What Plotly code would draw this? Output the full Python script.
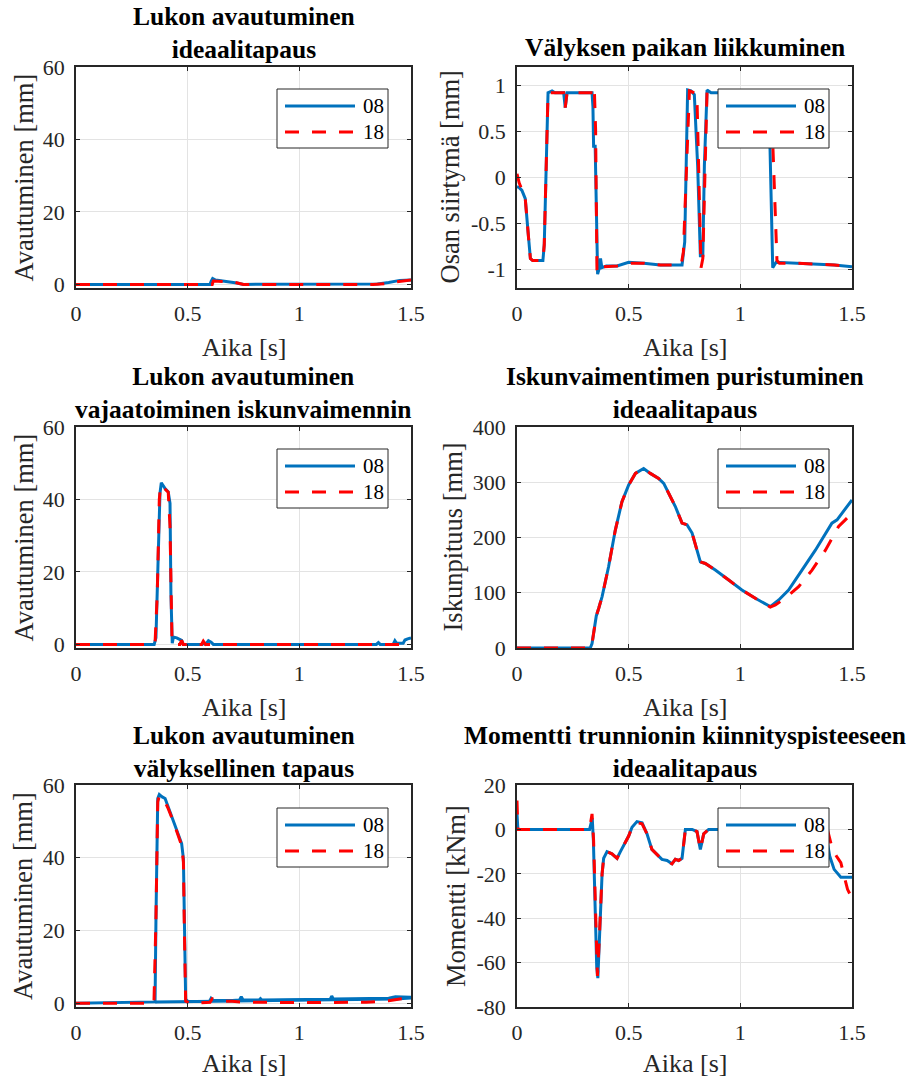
import plotly.graph_objects as go

W, H = 910, 1077

SERIES_NAMES = ["08", "18"]
X_TICKS = [0, 0.5, 1, 1.5]
X_TICKTEXT = ["0", "0.5", "1", "1.5"]

# ---------- Plot 1: Lukon avautuminen, ideaalitapaus ----------
p1_t08 = [0, 0.600, 0.605, 0.612, 0.625, 0.650, 0.680, 0.700, 0.720, 0.750, 1.300, 1.350, 1.400, 1.430, 1.450, 1.500]
p1_v08 = [0, 0, 0.8, 1.6, 1.2, 1.0, 0.9, 0.7, 0.4, 0, 0, 0.1, 0.5, 0.9, 1.1, 1.2]
p1_t18 = [0, 0.610, 0.615, 0.630, 0.660, 0.690, 0.720, 0.750, 1.330, 1.380, 1.420, 1.460, 1.500]
p1_v18 = [0, 0, 0.9, 0.8, 0.8, 0.9, 0.5, 0, 0, 0.2, 0.6, 1.0, 1.2]

# ---------- Plot 2: Välyksen paikan liikkuminen ----------
p2_t08 = [0, 0.010, 0.022, 0.037, 0.052, 0.060, 0.070, 0.116, 0.122, 0.131, 0.139, 0.157, 0.170, 0.209,
          0.216, 0.224, 0.300, 0.336, 0.340, 0.343, 0.350, 0.358, 0.361, 0.369, 0.374, 0.380, 0.400,
          0.448, 0.478, 0.500, 0.567, 0.642, 0.739, 0.746, 0.751, 0.764, 0.779, 0.794, 0.809, 0.821,
          0.832, 0.839, 0.851, 0.869, 1.000, 1.125, 1.132, 1.145, 1.160, 1.257, 1.421, 1.500]
p2_v08 = [-0.10, -0.11, -0.14, -0.23, -0.66, -0.88, -0.90, -0.90, -0.73, 0.13, 0.92, 0.94, 0.92, 0.92,
          0.76, 0.92, 0.92, 0.92, 0.77, 0.34, 0.34, -0.95, -1.05, -0.98, -0.88, -0.98, -0.96,
          -0.96, -0.94, -0.92, -0.93, -0.95, -0.95, -0.81, -0.70, 0.95, 0.94, 0.90, 0.12, -0.85,
          -0.85, 0.13, 0.95, 0.92, 0.92, 0.92, 0.42, -0.98, -0.92, -0.93, -0.95, -0.97]
p2_t18 = [0, 0.010, 0.022, 0.037, 0.052, 0.060, 0.070, 0.116, 0.122, 0.131, 0.139, 0.170, 0.209,
          0.216, 0.224, 0.300, 0.340, 0.346, 0.352, 0.358, 0.362, 0.366, 0.388, 0.448, 0.493, 0.515,
          0.567, 0.642, 0.735, 0.745, 0.772, 0.794, 0.806, 0.824, 0.832, 0.842, 0.851, 0.869, 1.000,
          1.135, 1.145, 1.155, 1.164, 1.175, 1.257, 1.421, 1.500]
p2_v18 = [0.04, -0.06, -0.13, -0.23, -0.66, -0.88, -0.90, -0.90, -0.73, 0.13, 0.92, 0.92, 0.92,
          0.76, 0.92, 0.92, 0.92, 0.98, 0.52, -1.00, -1.04, -1.00, -0.97, -0.96, -0.94, -0.93,
          -0.93, -0.95, -0.95, -0.81, 0.94, 0.92, 0.85, -0.98, -0.88, 0.13, 0.94, 0.92, 0.92,
          0.92, 0.39, -0.25, -0.90, -0.93, -0.93, -0.95, -0.97]

# ---------- Plot 3: Lukon avautuminen, vajaatoiminen iskunvaimennin ----------
p3_t08 = [0, 0.350, 0.358, 0.369, 0.376, 0.382, 0.399, 0.413, 0.421, 0.425, 0.428, 0.431, 0.436,
          0.451, 0.473, 0.480, 0.565, 0.570, 0.580, 0.593, 0.605, 0.615, 1.345, 1.354, 1.362, 1.420,
          1.428, 1.436, 1.465, 1.473, 1.485, 1.500]
p3_v08 = [0, 0, 1.8, 23, 41.7, 44.6, 43.0, 42.1, 38.9, 14, 5, 0.3, 2.0,
          1.8, 1.1, 0, 0, 0.3, 0, 1.0, 0.6, 0, 0, 0.5, 0, 0,
          1.0, 0.3, 0.3, 1.2, 1.5, 1.8]
p3_t18 = [0, 0.345, 0.354, 0.364, 0.373, 0.379, 0.396, 0.413, 0.421, 0.430, 0.440, 0.465, 0.473,
          0.480, 0.562, 0.570, 0.580, 1.500]
p3_v18 = [0, 0, 0.5, 14, 40, 44, 43, 42, 32.5, 0.5, 0, 0, 1.1,
          0, 0, 0.9, 0, 0]

# ---------- Plot 4: Iskunvaimentimen puristuminen, ideaalitapaus ----------
p4_t08 = [0, 0.328, 0.336, 0.345, 0.355, 0.366, 0.381, 0.410, 0.440, 0.470, 0.500, 0.530, 0.567,
          0.597, 0.634, 0.657, 0.679, 0.709, 0.739, 0.761, 0.784, 0.806, 0.821, 0.843, 0.888, 0.948,
          1.007, 1.067, 1.134, 1.172, 1.216, 1.276, 1.336, 1.410, 1.433, 1.500]
p4_v08 = [0, 0, 8, 32, 58, 72, 93, 147, 213, 265, 295, 316, 325,
          316, 307, 298, 280, 256, 226, 223, 208, 177, 156, 153, 141, 123,
          105, 90, 75, 87, 105, 141, 177, 226, 232, 268]
p4_t18 = [0, 0.328, 0.336, 0.345, 0.355, 0.366, 0.381, 0.410, 0.440, 0.470, 0.500, 0.530, 0.567,
          0.597, 0.634, 0.657, 0.679, 0.709, 0.739, 0.761, 0.784, 0.806, 0.821, 0.843, 0.888, 0.948,
          1.007, 1.067, 1.134, 1.157, 1.201, 1.261, 1.321, 1.381, 1.440, 1.470, 1.490]
p4_v18 = [0, 0, 8, 32, 58, 72, 93, 147, 213, 265, 295, 316, 325,
          316, 307, 298, 280, 256, 226, 223, 208, 177, 156, 153, 141, 123,
          105, 90, 74, 78, 90, 111, 141, 177, 220, 232, 240]

# ---------- Plot 5: Lukon avautuminen, välyksellinen tapaus ----------
p5_t08 = [0, 0.350, 0.354, 0.358, 0.366, 0.373, 0.384, 0.399, 0.413, 0.436, 0.458, 0.473, 0.481,
          0.485, 0.491, 0.503, 0.598, 0.605, 0.615, 0.700, 0.732, 0.740, 0.748, 0.820, 0.826, 0.832,
          1.138, 1.145, 1.152, 1.400, 1.430, 1.500,
          None, 0.355, 0.500, 1.000, 1.430, 1.500]
p5_v08 = [0, 0.3, 0.4, 23, 56.3, 57.4, 56.8, 56.3, 54.0, 49.9, 46.6, 43.9, 39.7,
          23, 1.1, 0.5, 0.6, 1.4, 0.8, 0.8, 0.9, 1.8, 0.9, 0.9, 1.3, 0.9,
          1.1, 2.0, 1.2, 1.4, 1.8, 1.7,
          None, 0.4, 0.5, 0.8, 1.2, 1.5]
p5_t18 = [0, 0.349, 0.358, 0.366, 0.373, 0.391, 0.413, 0.436, 0.473, 0.481, 0.485, 0.491, 0.510,
          0.600, 0.610, 0.630, 0.660, 0.700, 0.750, 0.800, 1.000, 1.300, 1.400, 1.450, 1.500]
p5_v18 = [0, 0, 23, 55.4, 57.0, 56.3, 53.5, 49.9, 43.4, 38.8, 21, 0.6, 0,
          0.3, 1.3, 1.1, 0.6, 0.6, 0.3, 0.3, 0.2, 0.3, 0.7, 1.2, 1.6]

# ---------- Plot 6: Momentti trunnionin kiinnityspisteeseen, ideaalitapaus ----------
p6_t08 = [0, 0.004, 0.325, 0.332, 0.337, 0.342, 0.350, 0.357, 0.362, 0.367, 0.373, 0.381, 0.388,
          0.403, 0.425, 0.448, 0.463, 0.485, 0.500, 0.515, 0.537, 0.560, 0.582, 0.604, 0.627, 0.649,
          0.672, 0.694, 0.709, 0.724, 0.739, 0.754, 0.784, 0.806, 0.821, 0.836, 0.858, 1.380, 1.400,
          1.420, 1.450, 1.500]
p6_v08 = [7, 0, 0, 4, 5, -5, -40, -62, -67, -55, -35, -20, -13,
          -10, -11, -13, -10, -6, -3, 1, 3.5, 3, -2, -9, -11.5, -13.5,
          -14, -15.5, -13.5, -14, -13, 0, 0, -1, -9, -2, 0, 0, -12,
          -18, -21.5, -21.5]
p6_t18 = [0, 0.004, 0.325, 0.331, 0.336, 0.343, 0.352, 0.360, 0.366, 0.373, 0.381, 0.388,
          0.403, 0.425, 0.448, 0.463, 0.485, 0.500, 0.515, 0.537, 0.560, 0.582, 0.604, 0.627, 0.649,
          0.672, 0.694, 0.709, 0.724, 0.739, 0.754, 0.784, 0.806, 0.821, 0.836, 0.858, 1.390, 1.410,
          1.430, 1.450, 1.465, 1.480, 1.500]
p6_v18 = [13, 0, 0, 3, 7, -5, -45, -66, -55, -34, -20, -13,
          -10, -11, -13, -10, -6, -3, 1, 3, 2.5, -2, -9, -11.5, -13.5,
          -14.5, -15.5, -13.5, -14, -13, 0, 0, -1, -9, -2, 0, 0, -8,
          -12, -15, -21, -27, -31]

TITLES = ["Lukon avautuminen<br>ideaalitapaus",
          "Välyksen paikan liikkuminen",
          "Lukon avautuminen<br>vajaatoiminen iskunvaimennin",
          "Iskunvaimentimen puristuminen<br>ideaalitapaus",
          "Lukon avautuminen<br>välyksellinen tapaus",
          "Momentti trunnionin kiinnityspisteeseen<br>ideaalitapaus"]
X_LABEL = "Aika [s]"
Y_LABELS = ["Avautuminen [mm]", "Osan siirtymä [mm]", "Avautuminen [mm]",
            "Iskunpituus [mm]", "Avautuminen [mm]", "Momentti [kNm]"]
Y_RANGES = [[-1, 60], [-1.2, 1.2], [-1, 60], [0, 400], [-1, 60], [-80, 20]]
Y_TICKS = [[0, 20, 40, 60], [-1, -0.5, 0, 0.5, 1], [0, 20, 40, 60],
           [0, 100, 200, 300, 400], [0, 20, 40, 60], [-80, -60, -40, -20, 0, 20]]
Y_TICKTEXT = [["0", "20", "40", "60"], ["-1", "-0.5", "0", "0.5", "1"], ["0", "20", "40", "60"],
              ["0", "100", "200", "300", "400"], ["0", "20", "40", "60"],
              ["-80", "-60", "-40", "-20", "0", "20"]]

DATA = [(p1_t08, p1_v08, p1_t18, p1_v18), (p2_t08, p2_v08, p2_t18, p2_v18),
        (p3_t08, p3_v08, p3_t18, p3_v18), (p4_t08, p4_v08, p4_t18, p4_v18),
        (p5_t08, p5_v08, p5_t18, p5_v18), (p6_t08, p6_v08, p6_t18, p6_v18)]

# ---------- layout geometry (pixels) ----------
COL_X = [(76, 411), (517, 852)]
ROW_Y = [(67, 288), (427, 648), (785, 1007)]
TITLE_CY = [33, 393, 752]
TITLE_CY_SINGLE = 48
XLABEL_CY = [347, 707, 1063]
YLABEL_CX = [23, 449, 23, 452, 23, 456]
LEG_X = [277, 718]
LEG_Y = [89, 449, 808]

BLUE = "#0072BD"
RED = "#FF0000"
AX = "#262626"
FONT = "Liberation Serif"


def px(x):
    return x / W


def py(y):
    return 1 - y / H


fig = go.Figure()
layout = dict(width=W, height=H, margin=dict(l=0, r=0, t=0, b=0, pad=0, autoexpand=False),
              paper_bgcolor="white", plot_bgcolor="white", showlegend=False,
              font=dict(family=FONT, color=AX))
annotations = []
shapes = []

for i in range(6):
    r, c = divmod(i, 2)
    n = i + 1
    xa = "xaxis" if n == 1 else f"xaxis{n}"
    ya = "yaxis" if n == 1 else f"yaxis{n}"
    xref = "x" if n == 1 else f"x{n}"
    yref = "y" if n == 1 else f"y{n}"
    x0, x1 = COL_X[c]
    y0, y1 = ROW_Y[r]
    common = dict(showline=True, mirror="ticks", linecolor=AX, linewidth=1.5,
                  ticks="inside", ticklen=4, tickwidth=1, tickcolor=AX, automargin=False,
                  showgrid=True, gridcolor="#E3E3E3", gridwidth=1, zeroline=False,
                  tickfont=dict(family=FONT, size=22, color=AX))
    layout[xa] = dict(domain=[px(x0), px(x1)], anchor=yref, range=[0, 1.5],
                      tickvals=X_TICKS, ticktext=X_TICKTEXT, ticklabelstandoff=5, **common)
    layout[ya] = dict(domain=[py(y1), py(y0)], anchor=xref, range=Y_RANGES[i],
                      tickvals=Y_TICKS[i], ticktext=Y_TICKTEXT[i], ticklabelstandoff=5, **common)

    t8, v8, t18, v18 = DATA[i]
    fig.add_trace(go.Scatter(x=t8, y=v8, mode="lines", name=SERIES_NAMES[0], xaxis=xref, yaxis=yref,
                             line=dict(color=BLUE, width=3), connectgaps=False))
    fig.add_trace(go.Scatter(x=t18, y=v18, mode="lines", name=SERIES_NAMES[1], xaxis=xref, yaxis=yref,
                             line=dict(color=RED, width=3, dash="14px,13px")))

    cx = (x0 + x1) / 2
    tcy = TITLE_CY[r] if "<br>" in TITLES[i] else TITLE_CY_SINGLE
    annotations.append(dict(text="<b>" + TITLES[i] + "</b>", x=px(cx), y=py(tcy), xref="paper", yref="paper",
                            xanchor="center", yanchor="middle", showarrow=False,
                            font=dict(family=FONT, size=25.5, color="black")))
    annotations.append(dict(text=X_LABEL, x=px(cx), y=py(XLABEL_CY[r]), xref="paper", yref="paper",
                            xanchor="center", yanchor="middle", showarrow=False,
                            font=dict(family=FONT, size=26, color=AX)))
    annotations.append(dict(text=Y_LABELS[i], x=px(YLABEL_CX[i]), y=py((y0 + y1) / 2), xref="paper",
                            yref="paper", xanchor="center", yanchor="middle", showarrow=False,
                            textangle=-90, font=dict(family=FONT, size=26.5, color=AX)))

    # legend box
    lx, ly = LEG_X[c], LEG_Y[r]
    shapes.append(dict(type="rect", xref="paper", yref="paper", x0=px(lx), x1=px(lx + 111),
                       y0=py(ly + 59), y1=py(ly), line=dict(color=AX, width=1), fillcolor="white",
                       layer="above"))
    for k, (col, dash) in enumerate([(BLUE, "solid"), (RED, "14px,13px")]):
        yy = ly + 17 + 26 * k
        shapes.append(dict(type="line", xref="paper", yref="paper", x0=px(lx + 8), x1=px(lx + 78),
                           y0=py(yy), y1=py(yy), line=dict(color=col, width=3, dash=dash), layer="above"))
        annotations.append(dict(text=SERIES_NAMES[k], x=px(lx + 84), y=py(yy), xref="paper", yref="paper",
                                xanchor="left", yanchor="middle", showarrow=False,
                                font=dict(family=FONT, size=21, color="black")))

layout["annotations"] = annotations
layout["shapes"] = shapes
fig.update_layout(**layout)
fig.write_html("out.html", config={"displayModeBar": False},
               post_script="document.body.style.margin='0';document.body.style.overflow='hidden';")
